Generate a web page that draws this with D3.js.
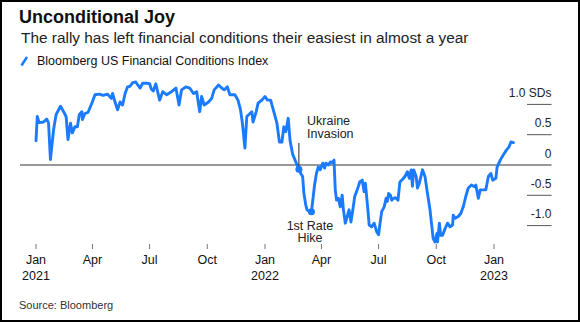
<!DOCTYPE html>
<html>
<head>
<meta charset="utf-8">
<script src="https://cdn.jsdelivr.net/npm/d3@7"></script>
<style>
  body { margin: 0; background: #fff; }
  svg { display: block; font-family: "Liberation Sans", Arial, sans-serif; }
</style>
</head>
<body>
<svg id="chart" width="580" height="322"></svg>
<script>
// days counted from 1 Jan 2021
var days = [0, 2, 5, 12, 17, 20, 23, 28, 32, 39, 44, 48, 51, 55, 58, 62, 66, 69, 73, 74,
  78, 83, 89, 94, 101, 107, 114, 120, 122, 126, 130, 134, 138, 142, 146, 150, 154, 159, 161, 166,
  170, 176, 181, 184, 187, 191, 197, 202, 208, 216, 223, 228, 232, 239, 245, 251, 256, 261, 264, 268,
  275, 280, 284, 291, 296, 300, 305, 309, 317, 322, 326, 329, 333, 336, 341, 344, 346, 351, 354, 360,
  365, 369, 374, 379, 384, 388, 392, 395, 398, 402, 405, 409, 413, 416, 419, 422, 425, 427, 430, 432,
  436, 439, 441, 444, 447, 450, 453, 457, 460, 462, 466, 469, 472, 475, 477, 479, 482, 485, 488, 490,
  493, 496, 499, 502, 505, 508, 512, 516, 520, 523, 525, 529, 531, 535, 539, 543, 546, 548, 551, 555,
  558, 560, 562, 565, 567, 570, 573, 577, 580, 584, 588, 592, 595, 598, 600, 602, 606, 608, 611, 616,
  620, 624, 628, 631, 633, 636, 639, 640, 643, 645, 648, 652, 656, 660, 664, 665, 668, 673, 677, 681,
  685, 689, 694, 699, 701, 705, 708, 711, 717, 721, 725, 728, 733, 735, 740, 745, 750, 754, 757, 761];

// Bloomberg US Financial Conditions Index, standard deviations
var fci = [0.40, 0.80, 0.70, 0.71, 0.76, 0.69, 0.09, 0.58, 0.83, 0.97, 0.88, 0.80, 0.42, 0.69, 0.53, 0.63, 0.63, 0.83, 0.88, 0.75,
  0.85, 0.87, 1.02, 1.16, 1.17, 1.15, 1.17, 1.10, 1.18, 1.04, 0.91, 1.04, 0.99, 1.18, 1.29, 1.30, 1.36, 1.37, 1.34, 1.27,
  1.35, 1.35, 1.34, 1.25, 1.22, 1.34, 1.07, 1.21, 1.16, 1.21, 1.27, 0.99, 1.24, 1.29, 1.27, 1.18, 1.21, 0.88, 1.13, 0.99,
  1.04, 1.10, 1.24, 1.32, 1.27, 1.24, 1.29, 1.16, 1.16, 1.07, 0.91, 0.69, 0.28, 0.80, 0.85, 0.88, 0.71, 0.88, 1.02, 1.07,
  1.13, 1.07, 1.07, 0.88, 0.69, 0.38, 0.38, 0.63, 0.55, 0.77, 0.40, 0.18, 0.08, 0.00, -0.07, -0.14, -0.19, -0.47, -0.66, -0.74,
  -0.77, -0.77, -0.60, -0.33, -0.14, -0.03, -0.08, 0.03, -0.05, 0.03, 0.00, 0.05, 0.04, 0.08, -0.41, -0.58, -0.55, -0.69, -0.50, -0.74,
  -0.96, -0.85, -0.74, -0.94, -0.74, -0.52, -0.41, -0.28, -0.25, -0.44, -0.30, -0.74, -0.99, -1.02, -0.96, -1.10, -1.15, -0.99, -0.77, -0.69,
  -0.55, -0.60, -0.47, -0.50, -0.58, -0.55, -0.54, -0.58, -0.28, -0.24, -0.19, -0.11, -0.22, -0.08, -0.35, -0.08, -0.19, -0.38, -0.30, -0.08,
  -0.19, -0.47, -0.74, -1.02, -1.21, -1.27, -1.13, -1.27, -0.96, -1.16, -1.16, -1.05, -0.96, -1.02, -0.99, -0.83, -0.88, -0.85, -0.80, -0.69,
  -0.52, -0.38, -0.33, -0.36, -0.33, -0.55, -0.41, -0.41, -0.41, -0.19, -0.14, -0.25, -0.22, -0.03, 0.08, 0.17, 0.25, 0.30, 0.38, 0.37];

var yTicks = [-1, -0.5, 0, 0.5, 1];
var yTickLabels = ["-1.0", "-0.5", "0", "0.5", "1.0 SDs"];
var monthNames = ["Jan", "Apr", "Jul", "Oct"];

// events marked on the line
var events = [
  {day: 419, label: ["Ukraine", "Invasion"]},
  {day: 439, label: ["1st Rate", "Hike"]}
];

var blue = "#1a7bff";
var start = new Date(Date.UTC(2021, 0, 1));

var series = days.map(function(d, i) {
  return {date: d3.utcDay.offset(start, d), value: fci[i]};
});

var svg = d3.select("#chart");

// frame
svg.append("rect")
  .attr("x", 1).attr("y", 1)
  .attr("width", 578).attr("height", 320)
  .attr("fill", "none")
  .attr("stroke", "#000")
  .attr("stroke-width", 2);

// heading
svg.append("text")
  .attr("x", 19).attr("y", 23)
  .style("font-size", "18px")
  .style("font-weight", "bold")
  .attr("fill", "#111")
  .text("Unconditional Joy");

svg.append("text")
  .attr("x", 21).attr("y", 43)
  .style("font-size", "15.4px")
  .attr("fill", "#222")
  .text("The rally has left financial conditions their easiest in almost a year");

// legend
svg.append("line")
  .attr("x1", 21.5).attr("y1", 65.5)
  .attr("x2", 27).attr("y2", 57)
  .attr("stroke", blue)
  .attr("stroke-width", 2.5);

svg.append("text")
  .attr("x", 37).attr("y", 64.5)
  .style("font-size", "12.5px")
  .attr("fill", "#111")
  .text("Bloomberg US Financial Conditions Index");

// scales
var x = d3.scaleUtc()
  .domain([start, new Date(Date.UTC(2023, 0, 1))])
  .range([36, 494]);

var y = d3.scaleLinear()
  .domain([-1, 1])
  .range([225.6, 104.4]);

// right hand gridlines and labels
var grid = svg.append("g");
yTicks.forEach(function(t, i) {
  grid.append("line")
    .attr("x1", t === 0 ? 20 : 527).attr("x2", 551.5)
    .attr("y1", y(t)).attr("y2", y(t))
    .attr("stroke", t === 0 ? "#333" : "#555")
    .attr("stroke-width", 1);
  grid.append("text")
    .attr("x", 551.5).attr("y", y(t) - 7.5)
    .attr("text-anchor", "end")
    .style("font-size", "12px")
    .attr("fill", "#222")
    .text(yTickLabels[i]);
});

// bottom axis
var xTicks = x.ticks(d3.utcMonth.every(3));
var axis = svg.append("g");
xTicks.forEach(function(t) {
  axis.append("line")
    .attr("x1", x(t)).attr("x2", x(t))
    .attr("y1", 244).attr("y2", 249)
    .attr("stroke", "#777");
  axis.append("text")
    .attr("x", x(t)).attr("y", 264)
    .attr("text-anchor", "middle")
    .style("font-size", "12.5px")
    .attr("fill", "#111")
    .text(monthNames[t.getUTCMonth() / 3]);
  if (t.getUTCMonth() === 0) {
    axis.append("text")
      .attr("x", x(t)).attr("y", 280)
      .attr("text-anchor", "middle")
      .style("font-size", "12.5px")
      .attr("fill", "#111")
      .text(t.getUTCFullYear());
  }
});

// index line
var line = d3.line()
  .x(function(d) { return x(d.date); })
  .y(function(d) { return y(d.value); });

svg.append("path")
  .datum(series)
  .attr("d", line)
  .attr("fill", "none")
  .attr("stroke", blue)
  .attr("stroke-width", 2.9)
  .attr("stroke-linejoin", "round")
  .attr("stroke-linecap", "round");

// event markers
function eventPoint(ev) {
  return series[days.indexOf(ev.day)];
}

var ukraine = eventPoint(events[0]);
svg.append("line")
  .attr("x1", x(ukraine.date)).attr("x2", x(ukraine.date))
  .attr("y1", 143).attr("y2", y(ukraine.value))
  .attr("stroke", "#222")
  .attr("stroke-width", 1);

events[0].label.forEach(function(s, i) {
  svg.append("text")
    .attr("x", 307).attr("y", 125 + i * 13.3)
    .style("font-size", "12.5px")
    .attr("fill", "#222")
    .text(s);
});

var hike = eventPoint(events[1]);
events[1].label.forEach(function(s, i) {
  svg.append("text")
    .attr("x", x(hike.date) - 1.5).attr("y", 229.5 + i * 12.5)
    .attr("text-anchor", "middle")
    .style("font-size", "12.5px")
    .attr("fill", "#222")
    .text(s);
});

svg.selectAll(".event-dot")
  .data([ukraine, hike])
  .enter().append("circle")
  .attr("class", "event-dot")
  .attr("cx", function(d) { return x(d.date); })
  .attr("cy", function(d) { return y(d.value); })
  .attr("r", 3.5)
  .attr("fill", blue);

// source
svg.append("text")
  .attr("x", 19).attr("y", 309)
  .style("font-size", "11px")
  .attr("fill", "#333")
  .text("Source: Bloomberg");
</script>
</body>
</html>
